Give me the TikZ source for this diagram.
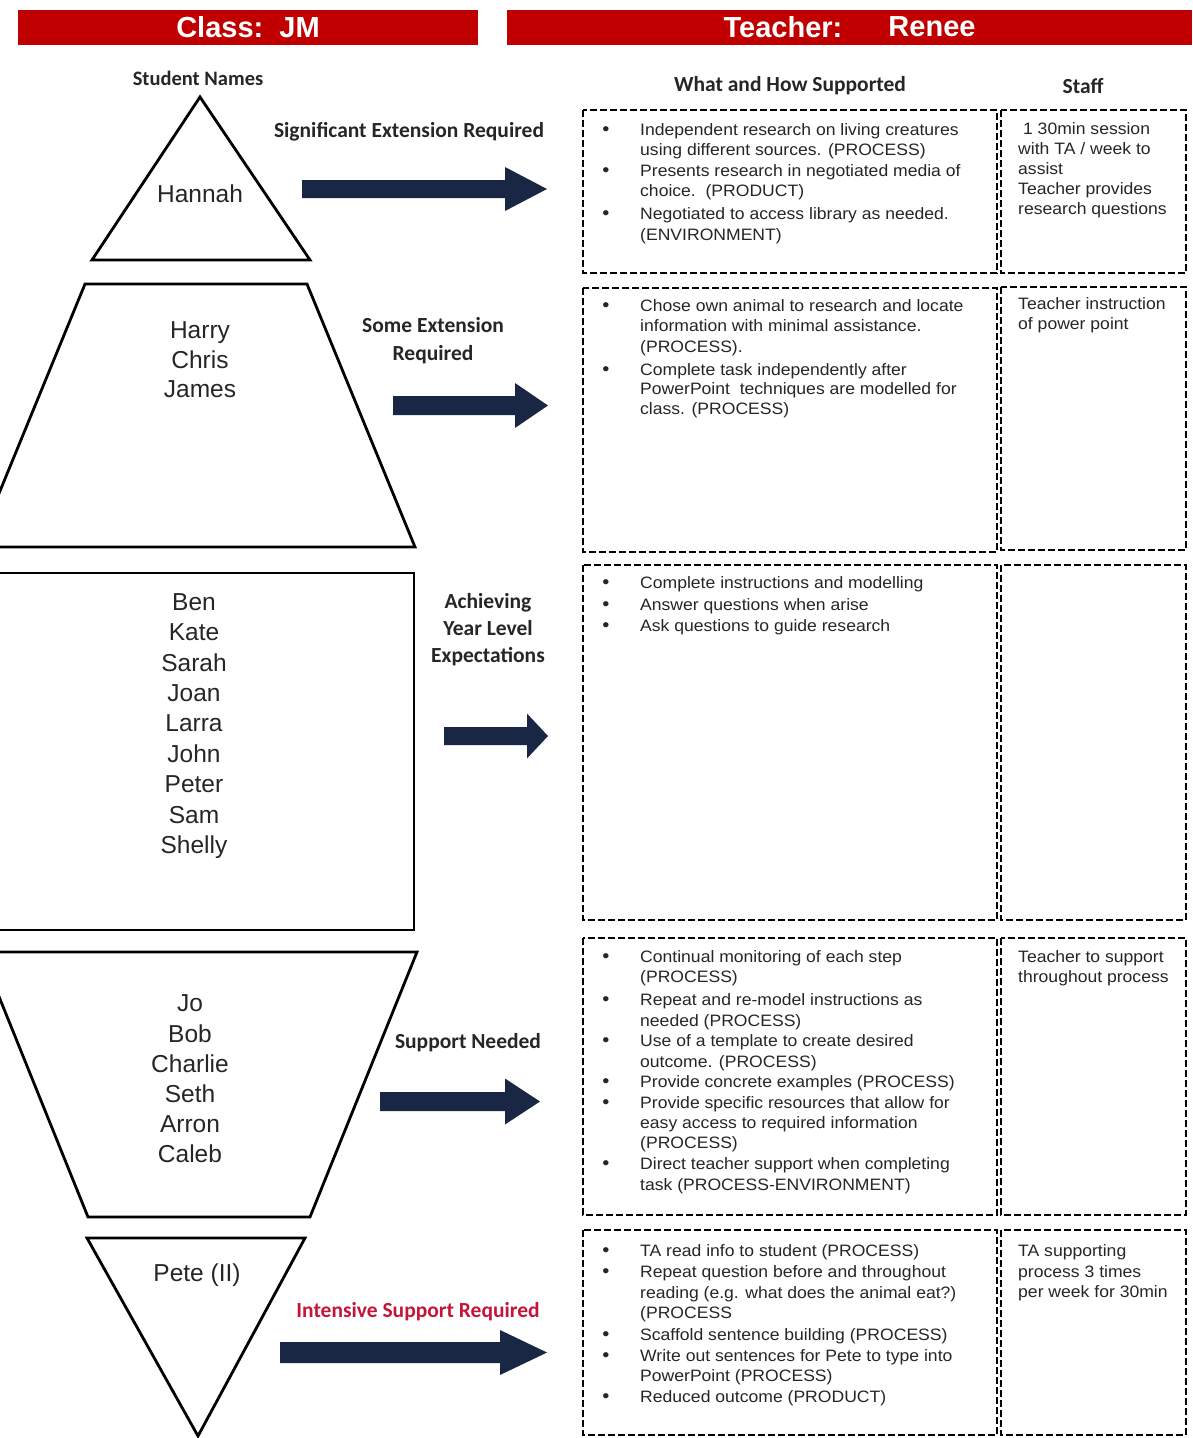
\documentclass[tikz,border=0pt]{standalone}
\usepackage{fontspec}
\setmainfont{Liberation Sans}
\newfontfamily\calfont{Carlito}
\newfontfamily\boxfont[FakeStretch=1.065]{Liberation Sans}
\definecolor{hdrred}{HTML}{C00000}
\definecolor{navy}{HTML}{1A2744}
\definecolor{isred}{HTML}{C4163A}
\definecolor{txtgray}{HTML}{262626}
\newcommand\txtline[4]{\node[tl] (#1) at (#2,#3) {#4};}
\newcommand\bulletat[2]{\node[bulletnode] (#1) at (606,#2) {\textbullet};}
\newcommand\blockarrow[7]{% name, x0, xh, xtip, yc, shaft half, head half
  \fill[navy] (#2,#5-#6) -- (#3,#5-#6) -- (#3,#5-#7) -- (#4,#5) -- (#3,#5+#7) -- (#3,#5+#6) -- (#2,#5+#6) -- cycle;
  \coordinate (#1) at (#4,#5);}
\begin{document}
\begin{tikzpicture}[x=1pt,y=-1pt,
  tl/.style={anchor=base west, inner sep=0pt, text=txtgray, font=\boxfont\fontsize{16.5}{19}\selectfont},
  bulletnode/.style={anchor=base, inner sep=0pt, text=txtgray, font=\boxfont\fontsize{19}{19}\selectfont},
  lab/.style={inner sep=0pt, text=txtgray, font=\calfont\bfseries\fontsize{21.5}{27}\selectfont, align=center},
  nm/.style={inner sep=0pt, text=txtgray, align=center},
  hdr/.style={inner sep=0pt, text=white, font=\bfseries\fontsize{29}{32}\selectfont},
  dbox/.style={draw=black, line width=1.8pt, dash pattern=on 7pt off 3pt},
  shp/.style={draw=black, line width=2.8pt, line join=miter}]
\useasboundingbox (0,0) rectangle (1192,1438);
\clip (0,0) rectangle (1192,1438);
\fill[white] (0,0) rectangle (1192,1438);
% header bars
\fill[hdrred] (18,10) rectangle (478,45);
\fill[hdrred] (507,10) rectangle (1192,45);
\node[hdr] (cls) at (248,27) {Class:\ \ JM};
\node[hdr] (tch) at (783,27) {Teacher:};
\node[hdr] (ren) at (932,27) {Renee};
% column headings
\node[lab, font=\calfont\bfseries\fontsize{20.5}{27}\selectfont] (sn) at (198,78) {Student Names};
\node[lab] (wh) at (790,86) {What and How Supported};
\node[lab] (st) at (1083,86) {Staff};
% shapes
\draw[shp] (200,97) -- (310,260) -- (92,260) -- cycle;
\draw[shp] (85,284) -- (307,284) -- (415,547) -- (-23,547) -- cycle;
\draw[shp] (-10,573) rectangle (414,930);
\draw[shp] (-19,952) -- (417,952) -- (310,1217) -- (88,1217) -- cycle;
\draw[shp] (87,1238) -- (305,1238) -- (198,1436) -- cycle;
% names
\node[nm, font=\fontsize{24.5}{29}\selectfont] (n1) at (200,194) {Hannah};
\node[nm, font=\fontsize{24.5}{29.5}\selectfont] (n2) at (200,360) {Harry\\Chris\\James};
\node[nm, font=\fontsize{24.5}{30.4}\selectfont] (n3) at (194,726) {Ben\\Kate\\Sarah\\Joan\\Larra\\John\\Peter\\Sam\\Shelly};
\node[nm, font=\fontsize{24.5}{30.2}\selectfont] (n4) at (190,1079) {Jo\\Bob\\Charlie\\Seth\\Arron\\Caleb};
\node[nm, font=\fontsize{24.5}{29}\selectfont] (n5) at (197,1275) {Pete (II)};
% level labels
\node[lab] (l1) at (409,132) {Significant Extension Required};
\node[lab, font=\calfont\bfseries\fontsize{21.5}{28}\selectfont] (l2) at (433,341) {Some Extension\\Required};
\node[lab, font=\calfont\bfseries\fontsize{21.5}{27}\selectfont] (l3) at (488,630) {Achieving\\Year Level\\Expectations};
\node[lab] (l4) at (468,1043) {Support Needed};
\node[lab, text=isred] (l5) at (418,1312) {Intensive Support Required};
% arrows
\blockarrow{a1}{302}{505}{547}{189}{9}{22}
\blockarrow{a2}{393}{515}{548}{405.5}{9.5}{22.5}
\blockarrow{a3}{444}{527}{548}{736}{9}{22.5}
\blockarrow{a4}{380}{505}{540}{1101.5}{9.5}{23}
\blockarrow{a5}{280}{500}{547}{1352.5}{10.5}{22.5}
% dashed boxes
\draw[dbox] (583,110) rectangle (997,273);
\draw[dbox] (1001,110) rectangle (1186,273);
\draw[dbox] (583,288) rectangle (997,552);
\draw[dbox] (1001,287) rectangle (1186,550);
\draw[dbox] (583,565) rectangle (997,920);
\draw[dbox] (1001,565) rectangle (1186,920);
\draw[dbox] (583,938) rectangle (997,1215);
\draw[dbox] (1001,938) rectangle (1186,1215);
\draw[dbox] (583,1230) rectangle (997,1435);
\draw[dbox] (1001,1230) rectangle (1186,1435);
% row 1
\bulletat{b11}{135}\txtline{t11}{640}{135}{Independent research on living creatures}
\txtline{t12}{640}{155}{using different sources. (PROCESS)}
\bulletat{b12}{176}\txtline{t13}{640}{176}{Presents research in negotiated media of}
\txtline{t14}{640}{196}{choice.\ \ (PRODUCT)}
\bulletat{b13}{219}\txtline{t15}{640}{219}{Negotiated to access library as needed.}
\txtline{t16}{640}{240}{(ENVIRONMENT)}
\txtline{s11}{1018}{134}{\ 1 30min session}
\txtline{s12}{1018}{154}{with TA / week to}
\txtline{s13}{1018}{174}{assist}
\txtline{s14}{1018}{194}{Teacher provides}
\txtline{s15}{1018}{214}{research questions}
% row 2
\bulletat{b21}{311}\txtline{t21}{640}{311}{Chose own animal to research and locate}
\txtline{t22}{640}{331}{information with minimal assistance.}
\txtline{t23}{640}{352}{(PROCESS).}
\bulletat{b22}{375}\txtline{t24}{640}{375}{Complete task independently after}
\txtline{t25}{640}{394}{PowerPoint\ \ techniques are modelled for}
\txtline{t26}{640}{414}{class. (PROCESS)}
\txtline{s21}{1018}{309}{Teacher instruction}
\txtline{s22}{1018}{329}{of power point}
% row 3
\bulletat{b31}{588}\txtline{t31}{640}{588}{Complete instructions and modelling}
\bulletat{b32}{610}\txtline{t32}{640}{610}{Answer questions when arise}
\bulletat{b33}{631}\txtline{t33}{640}{631}{Ask questions to guide research}
% row 4
\bulletat{b41}{962}\txtline{t41}{640}{962}{Continual monitoring of each step}
\txtline{t42}{640}{982}{(PROCESS)}
\bulletat{b42}{1005}\txtline{t43}{640}{1005}{Repeat and re-model instructions as}
\txtline{t44}{640}{1026}{needed (PROCESS)}
\bulletat{b43}{1046}\txtline{t45}{640}{1046}{Use of a template to create desired}
\txtline{t46}{640}{1067}{outcome. (PROCESS)}
\bulletat{b44}{1087}\txtline{t47}{640}{1087}{Provide concrete examples (PROCESS)}
\bulletat{b45}{1108}\txtline{t48}{640}{1108}{Provide specific resources that allow for}
\txtline{t49}{640}{1128}{easy access to required information}
\txtline{t4a}{640}{1148}{(PROCESS)}
\bulletat{b46}{1169}\txtline{t4b}{640}{1169}{Direct teacher support when completing}
\txtline{t4c}{640}{1190}{task (PROCESS-ENVIRONMENT)}
\txtline{s41}{1018}{962}{Teacher to support}
\txtline{s42}{1018}{982}{throughout process}
% row 5
\bulletat{b51}{1256}\txtline{t51}{640}{1256}{TA read info to student (PROCESS)}
\bulletat{b52}{1277}\txtline{t52}{640}{1277}{Repeat question before and throughout}
\txtline{t53}{640}{1298}{reading (e.g. what does the animal eat?)}
\txtline{t54}{640}{1318}{(PROCESS}
\bulletat{b53}{1340}\txtline{t55}{640}{1340}{Scaffold sentence building (PROCESS)}
\bulletat{b54}{1361}\txtline{t56}{640}{1361}{Write out sentences for Pete to type into}
\txtline{t57}{640}{1381}{PowerPoint (PROCESS)}
\bulletat{b55}{1402}\txtline{t58}{640}{1402}{Reduced outcome (PRODUCT)}
\txtline{s51}{1018}{1256}{TA supporting}
\txtline{s52}{1018}{1277}{process 3 times}
\txtline{s53}{1018}{1297}{per week for 30min}
\end{tikzpicture}
\end{document}
